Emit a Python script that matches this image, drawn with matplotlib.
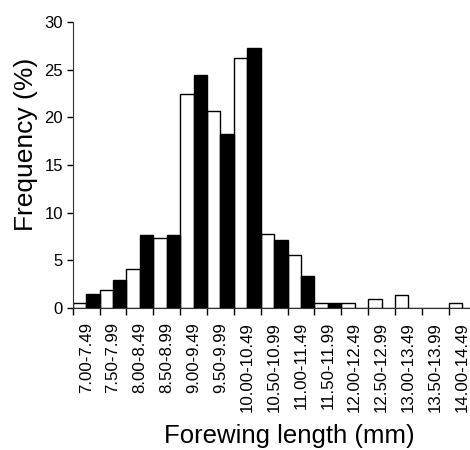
import numpy as np
import matplotlib.pyplot as plt

plt.rcParams['font.family'] = ['Liberation Sans', 'DejaVu Sans']

# forewing length classes (mm)
classes = ["7.00-7.49", "7.50-7.99", "8.00-8.49", "8.50-8.99", "9.00-9.49",
           "9.50-9.99", "10.00-10.49", "10.50-10.99", "11.00-11.49",
           "11.50-11.99", "12.00-12.49", "12.50-12.99", "13.00-13.49",
           "13.50-13.99", "14.00-14.49"]

# frequency (%) for the two groups (white and black bars)
freq_white = [0.56, 1.85, 4.13, 7.38, 22.5, 20.7, 26.2, 7.76, 5.53,
              0.49, 0.52, 0.91, 1.33, 0.0, 0.52]
freq_black = [1.47, 2.90, 7.66, 7.66, 24.4, 18.2, 27.3, 7.17, 3.32,
              0.52, 0.0, 0.0, 0.0, 0.0, 0.0]

fig = plt.figure(figsize=(4.7, 4.5), dpi=100)
ax = fig.add_axes([72.7 / 470, 142 / 450, (475.5 - 72.7) / 470, 286 / 450])

x = np.arange(len(classes))
w = 0.5
ax.bar(x - w / 2, freq_white, width=w, color="white", edgecolor="black", linewidth=1.0)
ax.bar(x + w / 2, freq_black, width=w, color="black", edgecolor="black", linewidth=1.0)

ax.set_xlim(-0.5, len(classes) - 0.5)
ax.set_ylim(0, 30)
ax.set_yticks([0, 5, 10, 15, 20, 25, 30])

# labels centred in each class, tick marks on class boundaries
ax.set_xticks(x)
ax.set_xticklabels(classes, rotation=90, fontsize=12.2)
ax.tick_params(axis='x', which='major', length=0, pad=10)
ax.set_xticks(np.arange(len(classes)) - 0.5, minor=True)
ax.tick_params(axis='x', which='minor', length=5, width=1, direction='out')
ax.tick_params(axis='y', length=4, width=1, labelsize=12, pad=3)

for s in ["top", "right"]:
    ax.spines[s].set_visible(False)
ax.spines["left"].set_color("#333333")
ax.spines["bottom"].set_color("#333333")

ax.set_ylabel("Frequency (%)", fontsize=19)
ax.yaxis.set_label_coords(-0.085, 0.572)
ax.set_xlabel("Forewing length (mm)", fontsize=18.5)
ax.xaxis.set_label_coords(0.539, -0.472)
ax.xaxis.label.set_va("baseline")

fig.savefig("out.png", dpi=100)
